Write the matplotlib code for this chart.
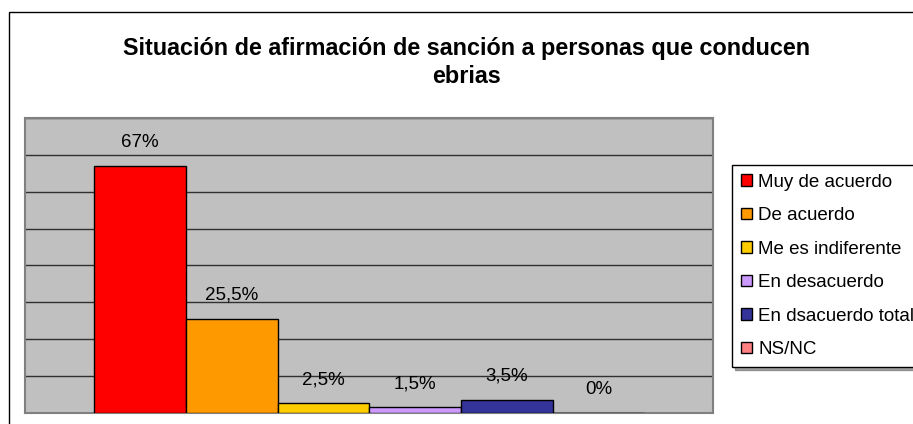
import matplotlib
matplotlib.use("Agg")
import matplotlib.pyplot as plt
from matplotlib.patches import Rectangle

plt.rcParams['font.family'] = ['Liberation Sans', 'DejaVu Sans']

title = "Situación de afirmación de sanción a personas que conducen\nebrias"
series = ["Muy de acuerdo", "De acuerdo", "Me es indiferente", "En desacuerdo",
          "En dsacuerdo total", "NS/NC"]
values = [67, 25.5, 2.5, 1.5, 3.5, 0]
labels = ["67%", "25,5%", "2,5%", "1,5%", "3,5%", "0%"]
colors = ["#FF0000", "#FF9900", "#FFCC00", "#CC99FF", "#333399", "#FF8080"]

W, H = 913, 424
fig = plt.figure(figsize=(W / 100, H / 100), dpi=100)
fig.patch.set_facecolor("white")

# outer chart frame (cut off at right and bottom)
fig.patches.append(Rectangle((8.5 / W, -0.1), 1.2, 1.1 - 12.5 / H,
                             transform=fig.transFigure, fill=False,
                             edgecolor="black", linewidth=1.0))

left, right, top, bottom = 25.4, 713, 118, 412.7
ax = fig.add_axes([left / W, (H - bottom) / H, (right - left) / W, (bottom - top) / H])
ax.set_facecolor("#C0C0C0")

n = len(values)
group = 0.8
bw = group / n
handles = []
for i, (v, lab, c, s) in enumerate(zip(values, labels, colors, series)):
    x = -group / 2 + bw * (i + 0.5)
    b = ax.bar(x, v, width=bw, color=c, edgecolor="black", linewidth=1.0,
               label=s, zorder=3)
    handles.append(b[0])
    ax.annotate(lab, (x, v), xytext=(0, 17.0), textcoords="offset points",
                ha="center", va="center", fontsize=13.5, color="black", zorder=4)

ax.set_xlim(-0.5, 0.5)
ax.set_ylim(0, 80)
ax.set_xticks([])
ax.set_yticks(range(0, 81, 10))
ax.tick_params(axis="y", length=0, labelleft=False)
ax.grid(axis="y", color="#303030", linewidth=1.0, zorder=1)
for sp in ax.spines.values():
    sp.set_color("#808080")
    sp.set_linewidth(1.5)

fig.text(466.5 / W, 1 - 62.5 / H, title, ha="center", va="center",
         fontsize=16.8, fontweight="bold", linespacing=1.3)

leg = fig.legend(handles=handles, labels=series, loc="upper left",
                 bbox_to_anchor=(732 / W, 1 - 165 / H, 0.3, 0.0), mode="expand",
                 fontsize=13.5, frameon=True, fancybox=False, shadow=True,
                 edgecolor="black", framealpha=1, handlelength=0.6,
                 handleheight=0.6, handletextpad=0.35, labelspacing=0.88,
                 borderpad=0.46, borderaxespad=0.0)
leg.get_frame().set_linewidth(1.0)

fig.savefig("out.png", dpi=100)
